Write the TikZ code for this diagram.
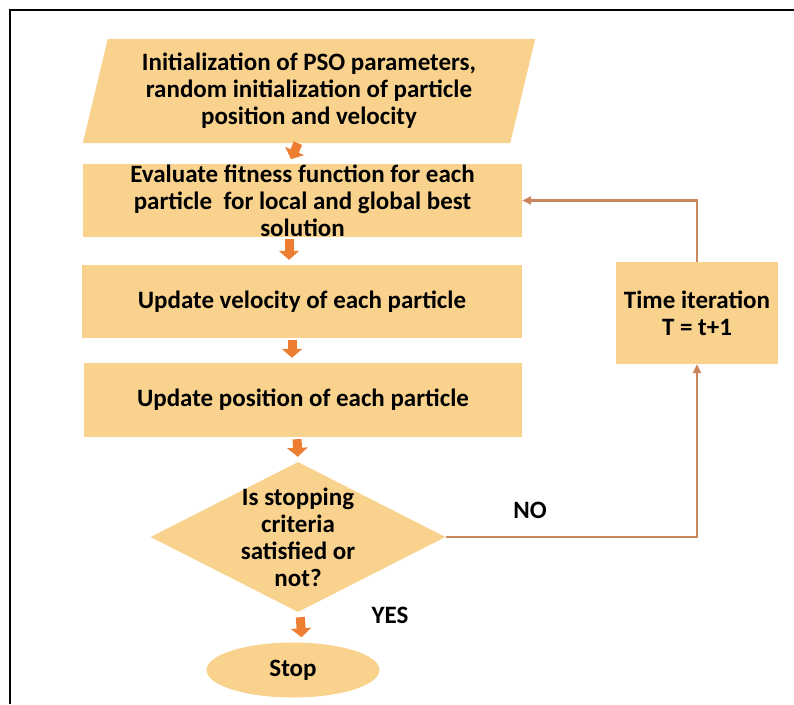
\documentclass[tikz,border=0pt]{standalone}
\usepackage{fontspec}
\setmainfont{Carlito}
\usetikzlibrary{shapes.geometric,arrows.meta,backgrounds}
\definecolor{boxfill}{RGB}{249,211,142}
\definecolor{flowarrow}{RGB}{237,125,49}
\definecolor{loopline}{RGB}{204,134,94}
\begin{document}
\begin{tikzpicture}[x=1pt,y=-1pt,font=\bfseries\fontsize{25}{27}\selectfont,
    box/.style={fill=boxfill,inner sep=0pt,align=center,minimum width=440,minimum height=74},
    flow/.style={draw=flowarrow,line width=9pt,-{Triangle[width=20pt,length=9pt]},shorten <=2pt,shorten >=5pt},
    back/.style={draw=loopline,line width=2.8pt,-{Triangle[width=8pt,length=9pt]}}]
    \useasboundingbox (0,0) rectangle (794,704);
    \draw[line width=2.5pt] (10,704) -- (10,10) -- (794,10);

    \node[align=center,inner sep=0pt,minimum width=427,minimum height=104] (init) at (309,91)
      {Initialization of PSO parameters,\\random initialization of particle\\position and velocity};
    \begin{scope}[on background layer]
      \fill[boxfill] ([xshift=12.5]init.north west) -- ([xshift=12.5]init.north east)
        -- ([xshift=-12.5]init.south east) -- ([xshift=-12.5]init.south west) -- cycle;
    \end{scope}
    \node[box,minimum width=439,minimum height=73] (eval) at (302.5,200.5)
      {Evaluate fitness function for each\\particle\ \ for local and global best\\solution};
    \node[box,minimum height=73] (vel) at (302,301.5) {Update velocity of each particle};
    \node[box,minimum width=438] (pos) at (303,400) {Update position of each particle};
    \node[diamond,fill=boxfill,inner sep=-40pt,minimum width=295,minimum height=150,align=center] (dec) at (298,537)
      {Is stopping\\criteria\\satisfied or\\not?};
    \node[ellipse,fill=boxfill,inner sep=0pt,minimum width=173,minimum height=55] (stop) at (293,670) {Stop};
    \node[box,minimum width=162,minimum height=102] (time) at (697,313) {Time iteration\\T = t+1};

    \node (no) at (530,510) {NO};
    \node (yes) at (390,615) {YES};

    \draw[flow,shorten <=0pt] ([xshift=-11]init.south) -- ([xshift=-13.5]eval.north);
    \draw[flow] ([xshift=-13.5]eval.south) -- ([xshift=-13]vel.north);
    \draw[flow] ([xshift=-10]vel.south) -- ([xshift=-11]pos.north);
    \draw[flow] ([xshift=-6]pos.south) -- (dec.north);
    \draw[flow,shorten <=5pt] ([xshift=2]dec.south) -- ([xshift=9]stop.north);

    \draw[back] (dec.east) -- (time.south |- dec.east) -- (time.south);
    \draw[back] (time.north) |- (eval.east);
\end{tikzpicture}
\end{document}
